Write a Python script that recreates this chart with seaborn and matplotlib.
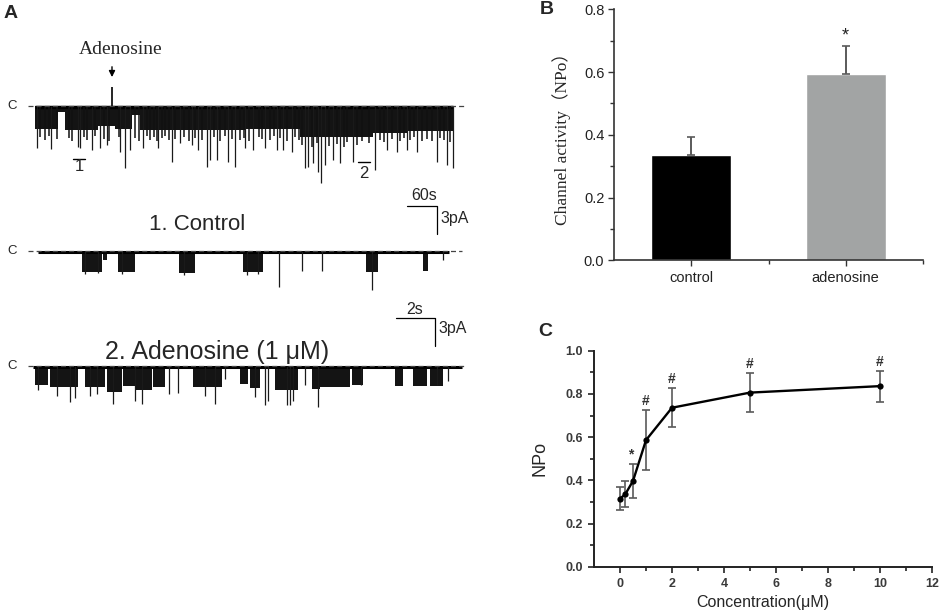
import numpy as np
import matplotlib
matplotlib.use("Agg")
import matplotlib.pyplot as plt
import seaborn as sns

# ---------------- B: channel activity ----------------
groups = ["control", "adenosine"]
npo_mean = [0.336, 0.593]
npo_err = [0.056, 0.091]
bar_colors = ["#000000", "#a2a4a4"]

# ---------------- C: concentration response ----------------
conc = [0, 0.2, 0.5, 1, 2, 5, 10]
conc_npo = [0.315, 0.335, 0.397, 0.586, 0.736, 0.806, 0.836]
conc_err = [0.052, 0.060, 0.080, 0.140, 0.090, 0.092, 0.072]
conc_marks = ["", "", "*", "#", "#", "#", "#"]

# ---------------- A: single channel traces (time s, current pA) ----------------
# long recording
long_end = 836
long_band_t0 = [0, 46, 60, 126, 160, 194, 210, 420, 530, 676, 744]
long_band_t1 = [46, 60, 126, 160, 194, 210, 420, 530, 676, 744, 836]
long_band_d = [2.5, 0.6, 2.6, 2.1, 2.5, 1.0, 2.6, 2.5, 3.3, 2.9, 2.7]
long_spike_t = [4, 32, 86, 90, 114, 130, 144, 170, 180, 190, 216, 246, 274, 290,
                314, 326, 344, 350, 364, 386, 400, 420, 436, 460, 484, 496, 514,
                540, 546, 556, 566, 572, 580, 596, 610, 636, 680, 704, 724, 744,
                764, 804, 824, 836]
long_spike_d = [4.5, 4.6, 4.4, 4.5, 4.7, 4.5, 4.2, 4.9, 6.6, 4.7, 4.5, 4.5, 6.0, 4.0,
                4.2, 4.7, 6.5, 5.8, 5.8, 6.0, 6.5, 4.5, 4.7, 4.5, 4.7, 4.7, 4.9,
                6.6, 6.5, 6.1, 7.1, 8.3, 6.3, 5.8, 6.1, 6.0, 6.9, 4.7, 4.9, 4.7,
                4.9, 6.0, 6.3, 6.6]
# shorter openings that make the lower edge of the dense band ragged
long_mid_t = [10, 20, 27, 43, 67, 73, 97, 103, 120, 137, 147, 167, 200, 207, 223,
              230, 237, 243, 253, 260, 267, 280, 297, 307, 320, 333, 357, 370, 380,
              393, 410, 417, 427, 447, 453, 470, 477, 490, 503, 520, 527, 533, 553,
              563, 587, 603, 617, 623, 643, 653, 667, 690, 697, 713, 730, 737, 750,
              757, 773, 783, 793, 810, 817, 830]
long_mid_d = [3.3, 3.6, 3.2, 3.5, 3.4, 3.7, 3.3, 3.6, 3.2, 3.5, 3.8, 3.3, 3.4, 3.7, 3.2,
              3.6, 3.3, 3.8, 3.4, 3.2, 3.6, 3.5, 3.3, 3.7, 3.4, 3.6, 3.3, 3.8, 3.2,
              3.5, 3.6, 3.4, 3.7, 3.3, 3.5, 3.6, 3.2, 3.4, 3.7, 3.3, 3.6, 4.2, 4.4,
              4.0, 4.3, 4.1, 4.4, 3.9, 4.2, 3.8, 4.0, 3.6, 3.9, 3.5, 3.7, 3.4, 3.6,
              3.3, 3.7, 3.5, 3.8, 3.4, 3.6, 3.9]
adenosine_t = 154
adenosine_up = 2.0

# 1. control
ctrl_end = 21.1
ctrl_band_t0 = [2.26, 3.33, 4.10, 7.23, 10.51, 16.82, 19.74]
ctrl_band_t1 = [3.28, 3.54, 4.97, 8.05, 11.54, 17.44, 20.00]
ctrl_band_d = [2.25, 1.0, 2.25, 2.4, 2.25, 2.25, 2.1]
ctrl_spike_t = [2.4, 3.1, 4.3, 7.5, 10.7, 11.3, 12.36, 13.54, 14.56, 17.13, 20.77]
ctrl_spike_d = [2.5, 2.4, 2.5, 2.6, 2.6, 2.5, 3.9, 2.1, 2.1, 4.2, 1.0]

# 2. adenosine (1 uM)
ado_end = 22.0
ado_band_t0 = [0.10, 0.87, 2.67, 3.79, 4.62, 5.23, 6.15, 8.21, 10.62, 11.13, 12.41,
               14.31, 14.72, 16.36, 18.56, 19.49, 20.36]
ado_band_t1 = [0.77, 2.31, 3.69, 4.56, 5.23, 6.10, 6.77, 9.69, 11.03, 11.64, 13.59,
               14.72, 16.26, 16.92, 18.97, 20.21, 21.03]
ado_band_d = [2.0, 2.3, 2.3, 2.8, 2.1, 2.6, 2.3, 2.3, 1.9, 2.4, 2.6,
              2.5, 2.3, 2.0, 2.1, 2.1, 2.1]
ado_spike_t = [0.26, 1.23, 1.90, 2.15, 2.92, 3.28, 4.10, 5.23, 5.59, 6.97, 7.44,
               8.82, 9.33, 9.85, 11.38, 11.90, 12.05, 13.03, 13.18, 13.33, 13.95,
               14.62, 16.82, 20.72, 21.28]
ado_spike_d = [2.6, 3.2, 3.9, 3.4, 3.2, 3.0, 4.1, 3.8, 4.1, 3.0, 2.9,
               3.2, 4.1, 1.4, 3.3, 4.2, 3.8, 4.2, 4.2, 3.8, 2.0,
               4.4, 2.0, 2.0, 1.6]

W, H = 941, 612
sns.set_style("ticks")
plt.rcParams["font.family"] = ["Liberation Sans", "DejaVu Sans"]
fig = plt.figure(figsize=(W / 100, H / 100), dpi=100)


def px_axes(x0, y0, x1, y1):
    ax = fig.add_axes([x0 / W, 1 - y1 / H, (x1 - x0) / W, (y1 - y0) / H])
    ax.set_facecolor("none")
    return ax


def ptext(x, y, s, **kw):
    kw.setdefault("ha", "center")
    kw.setdefault("va", "center")
    fig.text(x / W, 1 - y / H, s, **kw)


def draw_trace(ax, t_end, t0, t1, depth, st, sd, lw_base):
    ax.plot([0, t_end], [-0.15, -0.15], color="black", lw=lw_base, solid_capstyle="butt")
    ax.bar(t0, -np.asarray(depth), width=np.subtract(t1, t0), align="edge",
           color="#141414", linewidth=0)
    ax.vlines(st, 0, -np.asarray(sd), color="#1a1a1a", lw=0.9)
    ax.axis("off")


# ---- panel A ----
axL = px_axes(20, 40, 470, 240)
draw_trace(axL, long_end, long_band_t0, long_band_t1, long_band_d,
           long_spike_t, long_spike_d, 2.5)
axL.vlines(long_mid_t, 0, -np.asarray(long_mid_d), color="#111111", lw=1.1)
axL.vlines([adenosine_t], 0, adenosine_up, color="black", lw=1.2)
axL.plot([-14, 860], [0.05, 0.05], ls=(0, (4, 2.5)), color="#444444", lw=0.9)
axL.annotate("", xy=(adenosine_t, 2.8), xytext=(adenosine_t, 4.5),
             arrowprops=dict(arrowstyle="-|>", color="black", lw=1, mutation_scale=9))
axL.plot([76, 100], [-5.7, -5.7], color="black", lw=1)
axL.plot([646, 670], [-5.96, -5.96], color="black", lw=1)
# 60 s / 3 pA scale bar
axL.plot([744, 804, 804], [-10.68, -10.68, -13.68], color="black", lw=0.9, clip_on=False)
axL.set_xlim(-30, 870)
axL.set_ylim(-14.357, 7.071)

axCt = px_axes(20, 200, 470, 300)
draw_trace(axCt, ctrl_end, ctrl_band_t0, ctrl_band_t1, ctrl_band_d,
           ctrl_spike_t, ctrl_spike_d, 2.2)
axCt.plot([-0.51, 21.74], [0.05, 0.05], ls=(0, (4, 2.5)), color="#444444", lw=0.9)
axCt.set_xlim(-0.923, 22.154)
axCt.set_ylim(-5.25, 5.464)

axAd = px_axes(20, 290, 470, 420)
draw_trace(axAd, ado_end, ado_band_t0, ado_band_t1, ado_band_d,
           ado_spike_t, ado_spike_d, 2.2)
axAd.plot([-0.26, 22.15], [0.05, 0.05], ls=(0, (4, 2.5)), color="#444444", lw=0.9)
# 2 s / 3 pA scale bar
axAd.plot([18.62, 20.62, 20.62], [5.11, 5.11, 2.11], color="black", lw=0.9, clip_on=False)
axAd.set_xlim(-0.667, 22.41)
axAd.set_ylim(-5.786, 8.143)

ptext(11, 13, "A", fontsize=14, fontweight="bold")
ptext(121, 49, "Adenosine", fontsize=14, family=["Liberation Serif", "DejaVu Serif"])
for y in (106, 251, 366):
    ptext(12, y, "C", fontsize=9.5)
ptext(79, 167, "1", fontsize=12)
ptext(364, 173, "2", fontsize=12)
ptext(424, 195, "60s", fontsize=11.5)
ptext(440, 218, "3pA", fontsize=11.5, ha="left")
ptext(197, 225, "1. Control", fontsize=16)
ptext(415, 310, "2s", fontsize=11.5)
ptext(438, 329, "3pA", fontsize=11.5, ha="left")
ptext(217, 352, "2. Adenosine (1 \u03bcM)", fontsize=18)

# ---- panel B ----
axB = px_axes(614, 9.3, 923, 260.3)
sns.barplot(x=groups, y=npo_mean, hue=groups, palette=bar_colors, legend=False,
            saturation=1, width=0.52, errorbar=None, ax=axB)
axB.errorbar([0, 1], npo_mean, yerr=[[0, 0], npo_err], fmt="none",
             ecolor="#5a5a5a", elinewidth=1.4, capsize=3, capthick=1.2, zorder=1)
axB.text(1, npo_mean[1] + npo_err[1] + 0.032, "*", ha="center", va="center",
         fontsize=13, color="#222222")
axB.set_xlim(-0.5, 1.5)
axB.set_ylim(0, 0.8)
axB.set_yticks([0, 0.2, 0.4, 0.6, 0.8])
axB.set_yticks([0.1, 0.3, 0.5, 0.7], minor=True)
axB.set_xticks([0.5, 1.5], minor=True)
axB.yaxis.set_major_formatter(matplotlib.ticker.FormatStrFormatter("%.1f"))
axB.tick_params(axis="both", which="major", length=4, width=1, color="#333333",
                labelsize=10.5, labelcolor="#222222", pad=3)
axB.tick_params(axis="x", labelsize=10.5, pad=4)
axB.tick_params(axis="both", which="minor", length=3, width=1, color="#333333")
axB.set_ylabel("Channel activity\uff08NPo\uff09", fontsize=12.5,
               family=["Liberation Serif", "Noto Sans CJK SC"], labelpad=9)
sns.despine(ax=axB)
for s in ("left", "bottom"):
    axB.spines[s].set_linewidth(1.2)
    axB.spines[s].set_color("#333333")
ptext(547, 10, "B", fontsize=14, fontweight="bold")

# ---- panel C ----
axC = px_axes(594, 350.7, 932, 566.7)
axC.errorbar(conc, conc_npo, yerr=conc_err, fmt="none", ecolor="#5a5a5a",
             elinewidth=1.2, capsize=3, capthick=1.2, zorder=1)
sns.lineplot(x=conc, y=conc_npo, color="black", lw=1.7, marker="o", markersize=4.5,
             markeredgewidth=0, ax=axC, zorder=3)
for xv, yv, ev, m in zip(conc, conc_npo, conc_err, conc_marks):
    if m:
        axC.text(xv - (0.08 if m == "*" else 0), yv + ev + 0.042, m,
                 ha="center", va="center", fontsize=10, color="#333333",
                 fontweight="bold")
axC.set_xlim(-1, 12)
axC.set_ylim(0, 1.0)
axC.set_xticks(range(0, 13, 2))
axC.set_xticks(range(1, 13, 2), minor=True)
axC.set_yticks([0, 0.2, 0.4, 0.6, 0.8, 1.0])
axC.set_yticks([0.1, 0.3, 0.5, 0.7, 0.9], minor=True)
axC.yaxis.set_major_formatter(matplotlib.ticker.FormatStrFormatter("%.1f"))
axC.tick_params(axis="both", which="major", length=4, width=1.2, color="#222222",
                labelsize=9, labelcolor="#3a3a3a", pad=4)
axC.tick_params(axis="both", which="minor", length=3, width=1.2, color="#222222")
for lab in axC.get_xticklabels() + axC.get_yticklabels():
    lab.set_fontweight("bold")
axC.set_ylabel("NPo", fontsize=13, labelpad=12)
axC.set_xlabel("Concentration(\u03bcM)", fontsize=11.5, labelpad=4)
sns.despine(ax=axC)
for s in ("left", "bottom"):
    axC.spines[s].set_linewidth(1.4)
    axC.spines[s].set_color("#222222")
ptext(545, 331, "C", fontsize=14, fontweight="bold")

fig.savefig("out.png", dpi=100)
